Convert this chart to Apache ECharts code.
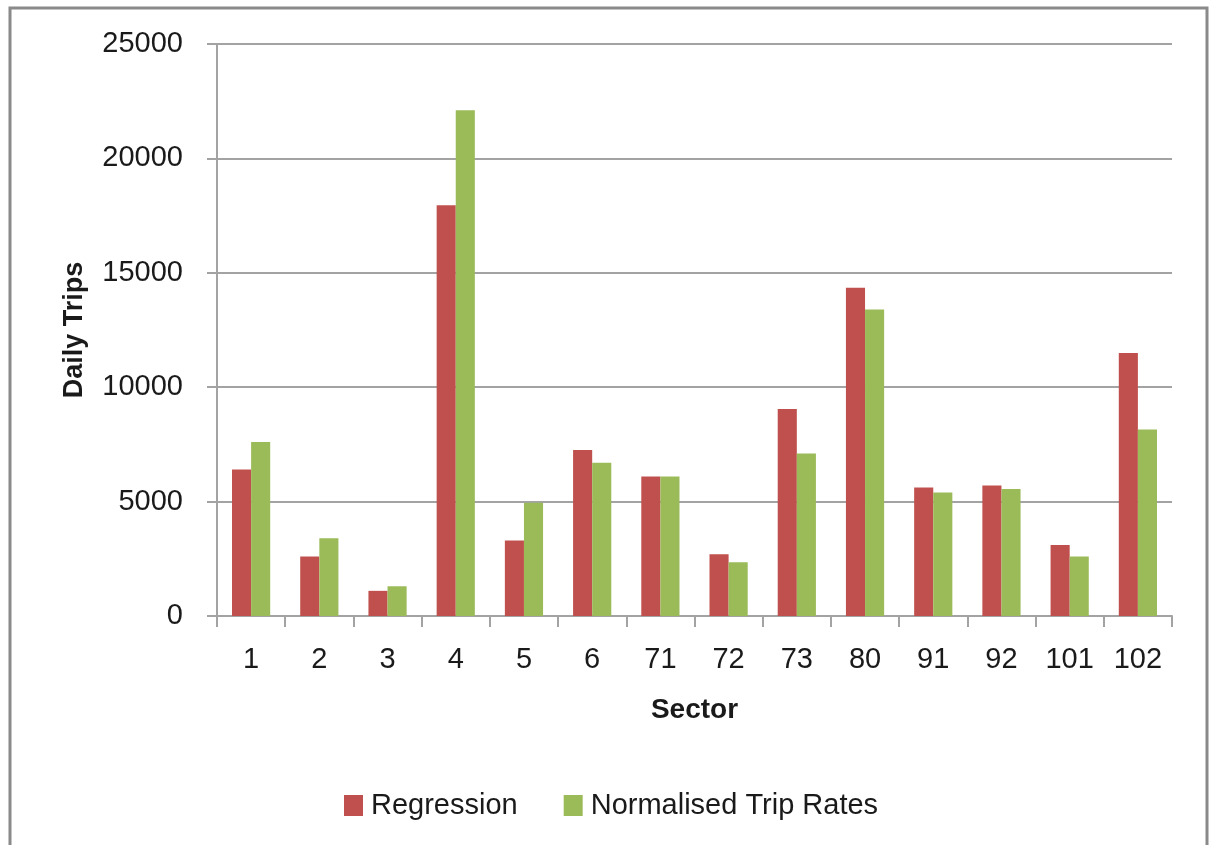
<!DOCTYPE html>
<html>
<head>
<meta charset="utf-8">
<script src="https://cdn.jsdelivr.net/npm/echarts@6/dist/echarts.min.js"></script>
<style>
  html, body { margin: 0; padding: 0; background: #ffffff; }
  #chart { width: 1213px; height: 845px; }
</style>
</head>
<body>
<div id="chart"></div>
<script>
const categories = ['1', '2', '3', '4', '5', '6', '71', '72', '73', '80', '91', '92', '101', '102'];
const regression = [6400, 2600, 1100, 17950, 3300, 7250, 6100, 2700, 9050, 14350, 5620, 5700, 3100, 11500];
const normalisedTripRates = [7600, 3400, 1300, 22100, 4950, 6700, 6100, 2350, 7100, 13400, 5400, 5550, 2600, 8150];
const yTicks = [0, 5000, 10000, 15000, 20000, 25000];

const FONT = '"Liberation Sans", Arial, sans-serif';
const TEXT = '#1a1a1a';
const GRID = '#a3a3a3';

const chart = echarts.init(document.getElementById('chart'), null, { renderer: 'canvas' });
chart.setOption({
  backgroundColor: '#ffffff',
  animation: false,
  graphic: [{
    type: 'rect',
    shape: { x: 10, y: 8, width: 1197, height: 860 },
    style: { fill: 'none', stroke: '#8a8a8a', lineWidth: 3 },
    z: 100
  }],
  grid: { left: 217, right: 41, top: 44, bottom: 229, containLabel: false },
  legend: {
    bottom: 20,
    left: 339,
    itemWidth: 19,
    itemHeight: 21,
    itemGap: 46,
    icon: 'rect',
    textStyle: { fontFamily: FONT, fontSize: 29, color: TEXT, padding: [0, 0, 0, 3] },
    data: ['Regression', 'Normalised Trip Rates']
  },
  xAxis: {
    type: 'category',
    data: categories,
    name: 'Sector',
    nameLocation: 'middle',
    nameGap: 80,
    nameTextStyle: { fontFamily: FONT, fontSize: 28, fontWeight: 'bold', color: TEXT },
    axisLine: { lineStyle: { color: GRID, width: 2 } },
    axisTick: { show: true, length: 11, lineStyle: { color: GRID, width: 2 } },
    axisLabel: { fontFamily: FONT, fontSize: 29, color: TEXT, margin: 29 }
  },
  yAxis: {
    type: 'value',
    min: yTicks[0],
    max: yTicks[yTicks.length - 1],
    interval: yTicks[1] - yTicks[0],
    name: 'Daily Trips',
    nameLocation: 'middle',
    nameGap: 129,
    nameRotate: 90,
    nameTextStyle: { fontFamily: FONT, fontSize: 27, fontWeight: 'bold', color: TEXT },
    axisLine: { show: true, lineStyle: { color: GRID, width: 2 } },
    axisTick: { show: true, length: 10, lineStyle: { color: GRID, width: 2 } },
    axisLabel: { fontFamily: FONT, fontSize: 29, color: TEXT, margin: 34, formatter: (v) => String(v) },
    splitLine: { show: true, lineStyle: { color: GRID, width: 2 } }
  },
  series: [
    {
      name: 'Regression',
      type: 'bar',
      data: regression,
      barGap: '0%',
      barCategoryGap: '44%',
      itemStyle: { color: '#C0504D' }
    },
    {
      name: 'Normalised Trip Rates',
      type: 'bar',
      data: normalisedTripRates,
      barGap: '0%',
      barCategoryGap: '44%',
      itemStyle: { color: '#9BBB59' }
    }
  ]
});
</script>
</body>
</html>
